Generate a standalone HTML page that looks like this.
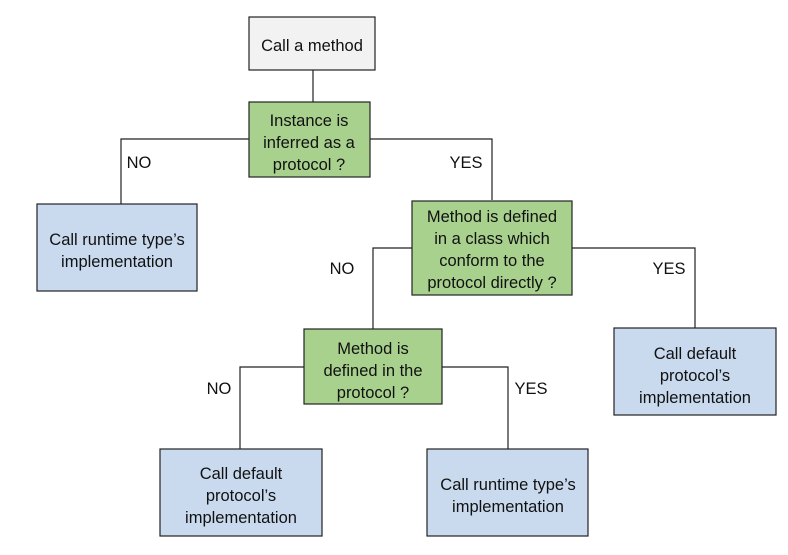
<!DOCTYPE html>
<html><head><meta charset="utf-8"><style>
html,body{margin:0;padding:0;background:#fff}
svg{display:block}
text{font-family:"Liberation Sans",sans-serif;font-size:16.5px;fill:#111;text-anchor:middle}
</style></head><body>
<svg width="788" height="555" viewBox="0 0 788 555" xmlns="http://www.w3.org/2000/svg">
<g stroke="#222" stroke-width="1.2" fill="none">
<path d="M313 70V102"/>
<path d="M249 139H121V204"/>
<path d="M370 139H492V200"/>
<path d="M412 248H373V329"/>
<path d="M572 248H695V328"/>
<path d="M304 367H240V449"/>
<path d="M442 367H508V449"/>
</g>
<g stroke="#222" stroke-width="1.2">
<rect x="249" y="17" width="126" height="53" fill="#f2f2f2"/>
<rect x="249" y="102" width="121" height="75" fill="#a9d18e"/>
<rect x="37" y="204" width="160" height="87" fill="#c9daef"/>
<rect x="412" y="201" width="160" height="94" fill="#a9d18e"/>
<rect x="304" y="329" width="138" height="75" fill="#a9d18e"/>
<rect x="614" y="328" width="162" height="87" fill="#c9daef"/>
<rect x="160" y="449" width="162" height="87" fill="#c9daef"/>
<rect x="427" y="449" width="161" height="87" fill="#c9daef"/>
</g>
<text x="312" y="51">Call a method</text>
<text x="309" y="126">Instance is</text>
<text x="309" y="148">inferred as a</text>
<text x="309" y="170">protocol ?</text>
<text x="117" y="245">Call runtime type’s</text>
<text x="117" y="267">implementation</text>
<text x="492" y="222">Method is defined</text>
<text x="492" y="244">in a class which</text>
<text x="492" y="266">conform to the</text>
<text x="492" y="288">protocol directly ?</text>
<text x="373" y="354">Method is</text>
<text x="373" y="376">defined in the</text>
<text x="373" y="398">protocol ?</text>
<text x="695" y="359">Call default</text>
<text x="695" y="381">protocol’s</text>
<text x="695" y="403">implementation</text>
<text x="241" y="479">Call default</text>
<text x="241" y="501">protocol’s</text>
<text x="241" y="523">implementation</text>
<text x="508" y="490">Call runtime type’s</text>
<text x="508" y="512">implementation</text>
<text x="139" y="168">NO</text>
<text x="466" y="168">YES</text>
<text x="342" y="274">NO</text>
<text x="669" y="274">YES</text>
<text x="219" y="394">NO</text>
<text x="531" y="394">YES</text>
</svg>
</body></html>
